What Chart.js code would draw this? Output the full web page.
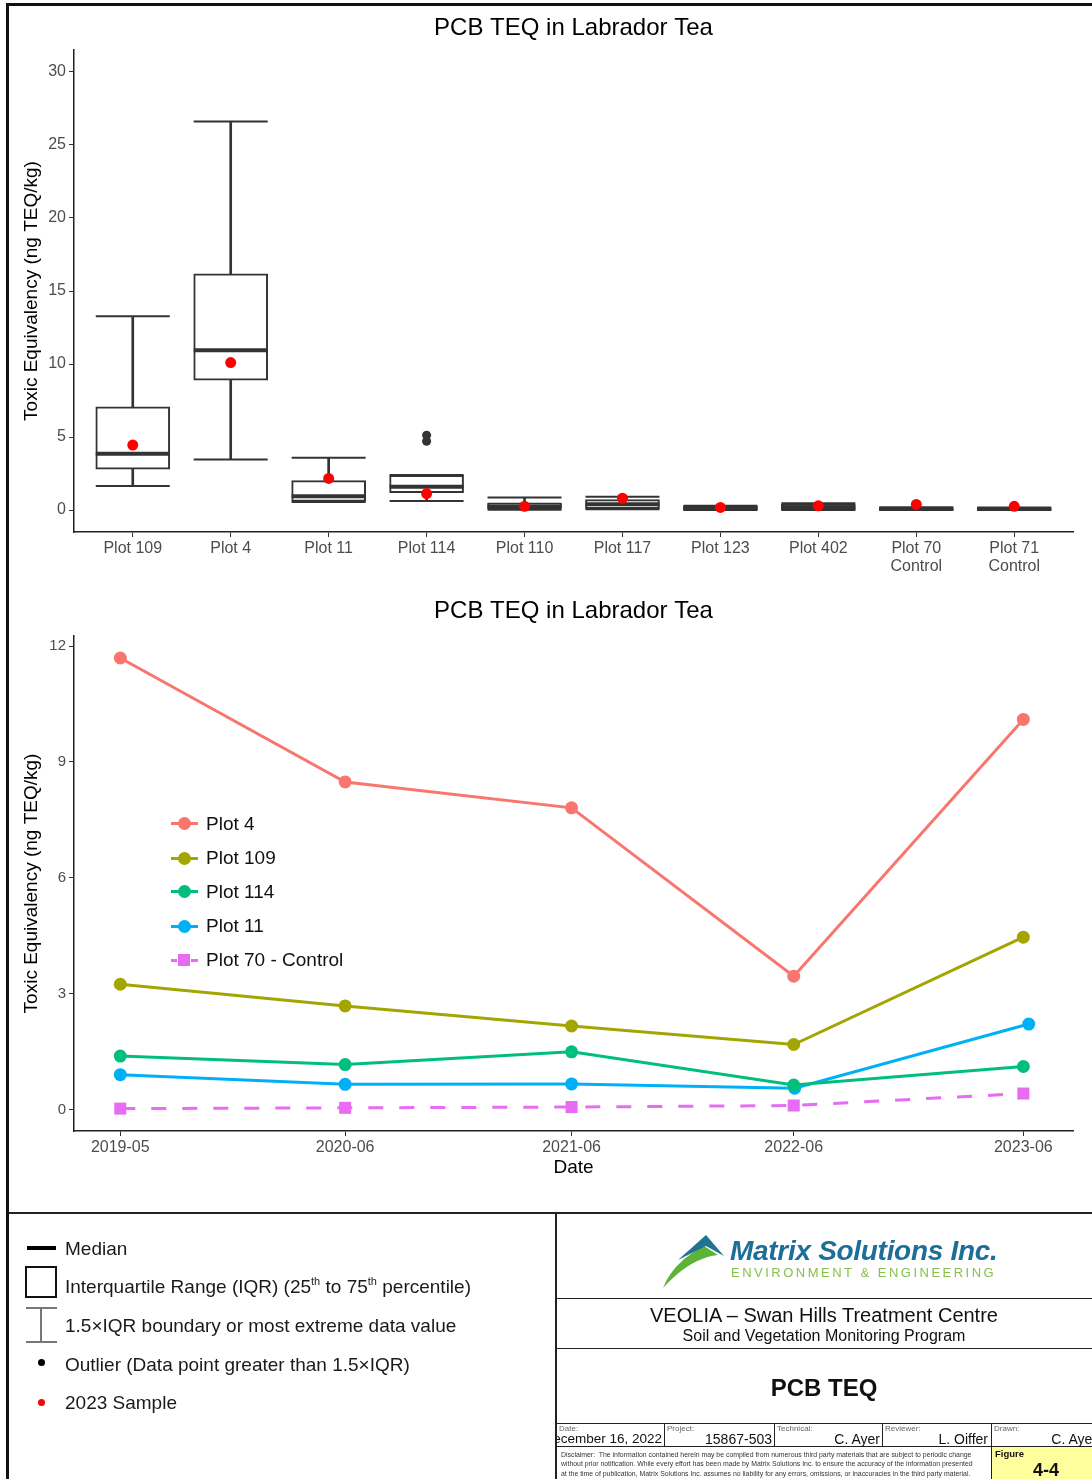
<!DOCTYPE html>
<html>
<head>
<meta charset="utf-8">
<title>PCB TEQ in Labrador Tea</title>
<script src="https://cdn.jsdelivr.net/npm/chart.js@4.4.1/dist/chart.umd.min.js"></script>
<style>
  body { margin: 0; background: #fff; font-family: "Liberation Sans", Arial, sans-serif; }
  #page { position: relative; width: 1092px; height: 1479px; overflow: hidden; background: #fff; }
  .abs { position: absolute; white-space: nowrap; }
  .frame { position: absolute; left: 6px; top: 3px; width: 1200px; height: 1600px; border: 3px solid #111; box-sizing: border-box; }
  .h { position: absolute; height: 0; border-top: 2px solid #222; }
  .v { position: absolute; width: 0; border-left: 2px solid #222; }
  canvas { position: absolute; }
  .key { font-size: 19px; color: #1a1a1a; line-height: 22px; }
  .key sup { font-size: 11px; vertical-align: 8px; line-height: 0; }
  .lkey { font-size: 19px; color: #111; line-height: 22px; }
  .lab { font-size: 8px; color: #666; }
  .val { font-size: 14px; color: #111; text-align: right; }
  .disc { font-size: 6.9px; color: #333; line-height: 9.3px; }
</style>
</head>
<body>
<div id="page">
  <canvas id="boxChart" width="1083" height="584" style="left:9px;top:6px;"></canvas>
  <canvas id="lineChart" width="1083" height="620" style="left:9px;top:590px;"></canvas>
  <div id="lineLegend"></div>

  <div class="frame"></div>

  <!-- lower block -->
  <div class="h" style="left:9px;top:1212px;width:1090px;"></div>
  <div class="v" style="left:555px;top:1212px;height:280px;"></div>
  <div class="h" style="left:556px;top:1298px;width:540px;border-top-width:1.5px;"></div>
  <div class="h" style="left:556px;top:1348px;width:540px;border-top-width:1.5px;"></div>
  <div class="h" style="left:556px;top:1423px;width:540px;border-top-width:1px;"></div>
  <div class="h" style="left:556px;top:1446px;width:540px;border-top-width:1px;"></div>

  <!-- box legend -->
  <div class="abs" style="left:27px;top:1246px;width:29px;height:3.5px;background:#000;"></div>
  <div class="abs key" style="left:65px;top:1238px;">Median</div>
  <div class="abs" style="left:25px;top:1266px;width:32px;height:32px;border:2px solid #111;box-sizing:border-box;"></div>
  <div class="abs key" style="left:65px;top:1276px;">Interquartile Range (IQR) (25<sup>th</sup> to 75<sup>th</sup> percentile)</div>
  <div class="abs" style="left:26px;top:1307px;width:31px;height:2px;background:#777;"></div>
  <div class="abs" style="left:40px;top:1307px;width:2px;height:35px;background:#777;"></div>
  <div class="abs" style="left:26px;top:1341px;width:31px;height:2px;background:#777;"></div>
  <div class="abs key" style="left:65px;top:1315px;">1.5×IQR boundary or most extreme data value</div>
  <div class="abs" style="left:37.5px;top:1359px;width:7px;height:7px;border-radius:50%;background:#000;"></div>
  <div class="abs key" style="left:65px;top:1354px;">Outlier (Data point greater than 1.5×IQR)</div>
  <div class="abs" style="left:37.5px;top:1399px;width:7px;height:7px;border-radius:50%;background:#ff0000;"></div>
  <div class="abs key" style="left:65px;top:1392px;">2023 Sample</div>

  <!-- logo -->
  <svg class="abs" style="left:658px;top:1230px;" width="78" height="60" viewBox="0 0 78 60">
    <path d="M5 58 Q15 32 46 16 L60 25 Q32 28 5 58 Z" fill="#5cb338"/>
    <polygon points="20,30 48,5 66,26 48,16" fill="#1f7590"/>
    <polygon points="46,18 74,28 60,23" fill="#a9d46e"/>
  </svg>
  <div class="abs" style="left:730px;top:1235px;font-size:28px;font-weight:bold;font-style:italic;color:#1d6e98;letter-spacing:-0.3px;">Matrix Solutions Inc.</div>
  <div class="abs" style="left:731px;top:1265px;font-size:13px;color:#86c04a;letter-spacing:2.5px;">ENVIRONMENT &amp; ENGINEERING</div>

  <div class="abs" style="left:556px;width:536px;top:1304px;text-align:center;font-size:20px;color:#111;">VEOLIA – Swan Hills Treatment Centre</div>
  <div class="abs" style="left:556px;width:536px;top:1327px;text-align:center;font-size:16px;color:#111;">Soil and Vegetation Monitoring Program</div>
  <div class="abs" style="left:556px;width:536px;top:1374px;text-align:center;font-size:24px;font-weight:bold;color:#111;">PCB TEQ</div>

  <!-- info row -->
  <div class="v" style="left:664px;top:1423px;height:23px;border-left-width:1px;"></div>
  <div class="v" style="left:774px;top:1423px;height:23px;border-left-width:1px;"></div>
  <div class="v" style="left:882px;top:1423px;height:23px;border-left-width:1px;"></div>
  <div class="v" style="left:991px;top:1423px;height:56px;border-left-width:1px;"></div>
  <div class="abs lab" style="left:559px;top:1424px;">Date:</div>
  <div class="abs lab" style="left:667px;top:1424px;">Project:</div>
  <div class="abs lab" style="left:777px;top:1424px;">Technical:</div>
  <div class="abs lab" style="left:885px;top:1424px;">Reviewer:</div>
  <div class="abs lab" style="left:994px;top:1424px;">Drawn:</div>
  <div class="abs" style="left:557px;top:1431px;width:106px;height:16px;overflow:hidden;">
    <div class="abs val" style="right:1px;top:0;font-size:13.5px;">December 16, 2022</div>
  </div>
  <div class="abs val" style="left:666px;width:106px;top:1431px;">15867-503</div>
  <div class="abs val" style="left:776px;width:104px;top:1431px;">C. Ayer</div>
  <div class="abs val" style="left:884px;width:104px;top:1431px;">L. Oiffer</div>
  <div class="abs val" style="left:993px;width:104px;top:1431px;">C. Ayer</div>

  <div class="abs disc" style="left:561px;top:1450px;">Disclaimer:&nbsp; The information contained herein may be compiled from numerous third party materials that are subject to periodic change<br>without prior notification. While every effort has been made by Matrix Solutions Inc. to ensure the accuracy of the information presented<br>at the time of publication, Matrix Solutions Inc. assumes no liability for any errors, omissions, or inaccuracies in the third party material.</div>

  <div class="abs" style="left:992px;top:1447px;width:100px;height:32px;background:#ffff9e;"></div>
  <div class="abs" style="left:995px;top:1448px;font-size:9.5px;font-weight:bold;color:#111;">Figure</div>
  <div class="abs" style="left:992px;width:108px;top:1460px;text-align:center;font-size:18px;font-weight:bold;color:#111;">4-4</div>
</div>

<script>
Chart.defaults.font.family = '"Liberation Sans", Arial, sans-serif';
Chart.defaults.color = '#4d4d4d';

// ---- box plot: PCB TEQ by plot (ng TEQ/kg) ----
const boxCats = ['Plot 109', 'Plot 4', 'Plot 11', 'Plot 114', 'Plot 110', 'Plot 117',
                 'Plot 123', 'Plot 402', ['Plot 70', 'Control'], ['Plot 71', 'Control']];
const boxMin    = [1.65, 3.46, 0.55, 0.63, 0.02, 0.05, 0.00, 0.00, 0.00, 0.00];
const boxQ1     = [2.80, 8.90, 0.60, 1.20, 0.08, 0.10, 0.02, 0.03, 0.02, 0.02];
const boxMedian = [3.85, 10.94, 0.94, 1.60, 0.25, 0.40, 0.12, 0.20, 0.08, 0.07];
const boxQ3     = [7.07, 16.18, 2.02, 2.38, 0.50, 0.72, 0.27, 0.42, 0.16, 0.15];
const boxMax    = [13.27, 26.6, 3.59, 2.40, 0.86, 0.92, 0.30, 0.47, 0.19, 0.18];
const outlierIdx = [3, 3];          // Plot 114
const outlierVal = [5.13, 4.71];
const sample2023 = [4.45, 10.1, 2.17, 1.13, 0.26, 0.81, 0.18, 0.29, 0.39, 0.26];
const boxYTicks = [0, 5, 10, 15, 20, 25, 30];

// ---- line chart: PCB TEQ over time ----
const lineDates = [2019.41, 2020.406, 2021.409, 2022.393, 2023.41];     // decimal years
const plot11Dates = [2019.41, 2020.406, 2021.409, 2022.397, 2023.434];
const lineTickLabels = ['2019-05', '2020-06', '2021-06', '2022-06', '2023-06'];
const lineYTicks = [0, 3, 6, 9, 12];
const plot4Vals   = [11.69, 8.48, 7.81, 3.45, 10.1];
const plot109Vals = [3.24, 2.68, 2.16, 1.68, 4.46];
const plot114Vals = [1.38, 1.16, 1.49, 0.63, 1.11];
const plot11Vals  = [0.90, 0.65, 0.66, 0.55, 2.21];
const plot70Vals  = [0.02, 0.04, 0.06, 0.10, 0.41];

const lineSeries = [
  { label: 'Plot 4', dates: lineDates, vals: plot4Vals, color: '#F8766D' },
  { label: 'Plot 109', dates: lineDates, vals: plot109Vals, color: '#A3A500' },
  { label: 'Plot 114', dates: lineDates, vals: plot114Vals, color: '#00BF7D' },
  { label: 'Plot 11', dates: plot11Dates, vals: plot11Vals, color: '#00B0F6' },
  { label: 'Plot 70 - Control', dates: lineDates, vals: plot70Vals, color: '#E76BF3', dashed: true }
];

const axisTitle = 'Toxic Equivalency (ng TEQ/kg)';

function yAxis(min, max, ticks, tickSize) {
  return {
    type: 'linear', min: min, max: max,
    afterBuildTicks: s => { s.ticks = ticks.map(v => ({ value: v })); },
    afterFit: s => { s.width = 65; },
    ticks: { font: { size: tickSize }, color: '#4d4d4d', padding: 3 },
    grid: { drawOnChartArea: false, tickLength: 5, color: '#333' },
    border: { color: '#222', width: 1.5 },
    title: { display: true, text: axisTitle, color: '#000', font: { size: 19 }, padding: { top: 11.6, bottom: 0 } }
  };
}

new Chart(document.getElementById('boxChart'), {
  type: 'bar',
  data: {
    datasets: [
      { label: 'whisker', data: boxCats.map((c, i) => ({ x: i, y: [boxMin[i], boxMax[i]] })),
        backgroundColor: '#333', barThickness: 2, grouped: false, order: 6 },
      { label: 'IQR', data: boxCats.map((c, i) => ({ x: i, y: [boxQ1[i], boxQ3[i]] })),
        backgroundColor: '#fff', borderColor: '#333', borderWidth: 2, borderSkipped: false,
        barThickness: 74, grouped: false, order: 5 },
      { label: 'cap', type: 'scatter',
        data: boxCats.map((c, i) => ({ x: i, y: boxMax[i] })).concat(boxCats.map((c, i) => ({ x: i, y: boxMin[i] }))),
        pointStyle: 'line', pointRadius: 37, pointBorderWidth: 2, pointBorderColor: '#333', order: 4 },
      { label: 'median', type: 'scatter', data: boxCats.map((c, i) => ({ x: i, y: boxMedian[i] })),
        pointStyle: 'line', pointRadius: 37, pointBorderWidth: 4, pointBorderColor: '#333', order: 3 },
      { label: 'outlier', type: 'scatter', data: outlierIdx.map((c, k) => ({ x: c, y: outlierVal[k] })),
        pointRadius: 4.5, pointBackgroundColor: '#333', pointBorderWidth: 0, order: 2 },
      { label: '2023 Sample', type: 'scatter', data: boxCats.map((c, i) => ({ x: i, y: sample2023[i] })),
        pointRadius: 5.5, pointBackgroundColor: '#ff0000', pointBorderWidth: 0, order: 1 }
    ]
  },
  options: {
    responsive: false, animation: false, events: [],
    layout: { autoPadding: false, padding: { left: 0, right: 19, top: 0, bottom: 0 } },
    plugins: {
      legend: { display: false }, tooltip: { enabled: false },
      title: { display: true, text: 'PCB TEQ in Labrador Tea', color: '#000', fullSize: false,
               font: { size: 24, weight: 'normal' }, padding: { top: 7.6, bottom: 7.6 } }
    },
    scales: {
      x: {
        type: 'linear', min: -0.6, max: 9.6, offset: false,
        afterBuildTicks: s => { s.ticks = boxCats.map((c, i) => ({ value: i })); },
        afterFit: s => { s.height = 58; },
        ticks: { autoSkip: false, maxRotation: 0, font: { size: 16, lineHeight: 1.15 }, color: '#4d4d4d', padding: 2,
                 callback: v => boxCats[v] },
        grid: { drawOnChartArea: false, tickLength: 5, color: '#333', offset: false },
        border: { color: '#222', width: 1.5 }
      },
      y: yAxis(-1.5, 31.5, boxYTicks, 16)
    }
  }
});

new Chart(document.getElementById('lineChart'), {
  type: 'line',
  data: {
    datasets: lineSeries.map(s => ({
      label: s.label,
      data: s.dates.map((d, i) => ({ x: d, y: s.vals[i] })),
      borderColor: s.color, backgroundColor: s.color, borderWidth: 3,
      borderDash: s.dashed ? [15, 16] : [],
      pointStyle: s.dashed ? 'rect' : 'circle',
      pointRadius: s.dashed ? 8.5 : 6.5, pointBorderWidth: 0, tension: 0
    }))
  },
  options: {
    responsive: false, animation: false, events: [],
    layout: { autoPadding: false, padding: { left: 0, right: 19, top: 0, bottom: 0 } },
    plugins: {
      legend: { display: false }, tooltip: { enabled: false },
      title: { display: true, text: 'PCB TEQ in Labrador Tea', color: '#000', fullSize: false,
               font: { size: 24, weight: 'normal' }, padding: { top: 6.6, bottom: 10.6 } }
    },
    scales: {
      x: {
        type: 'linear', min: 2019.205, max: 2023.63, offset: false,
        afterBuildTicks: s => { s.ticks = lineDates.map(v => ({ value: v })); },
        afterFit: s => { s.height = 79; },
        ticks: { autoSkip: false, maxRotation: 0, font: { size: 16 }, color: '#4d4d4d', padding: 2,
                 callback: (v, i) => lineTickLabels[i] },
        grid: { drawOnChartArea: false, tickLength: 5, color: '#333', offset: false },
        border: { color: '#222', width: 1.5 },
        title: { display: true, text: 'Date', color: '#000', font: { size: 19 }, padding: { top: 0, bottom: 30.6 } }
      },
      y: yAxis(-0.56, 12.26, lineYTicks, 15)
    }
  }
});

// legend placed inside the plot, as in the reference
const legendBox = document.getElementById('lineLegend');
const legendTops = [823.5, 858, 891.5, 926, 960];
lineSeries.forEach((s, k) => {
  const y = legendTops[k];
  let html = '';
  if (s.dashed) {
    html += `<div class="abs" style="left:171px;top:${y - 1.5}px;width:6px;height:3px;background:${s.color}"></div>`;
    html += `<div class="abs" style="left:191px;top:${y - 1.5}px;width:7px;height:3px;background:${s.color}"></div>`;
    html += `<div class="abs" style="left:178px;top:${y - 6}px;width:12px;height:12px;background:${s.color}"></div>`;
  } else {
    html += `<div class="abs" style="left:171px;top:${y - 1.5}px;width:27px;height:3px;background:${s.color}"></div>`;
    html += `<div class="abs" style="left:178px;top:${y - 6.5}px;width:13px;height:13px;border-radius:50%;background:${s.color}"></div>`;
  }
  html += `<div class="abs lkey" style="left:206px;top:${y - 11}px;">${s.label}</div>`;
  legendBox.insertAdjacentHTML('beforeend', html);
});
</script>
</body>
</html>
